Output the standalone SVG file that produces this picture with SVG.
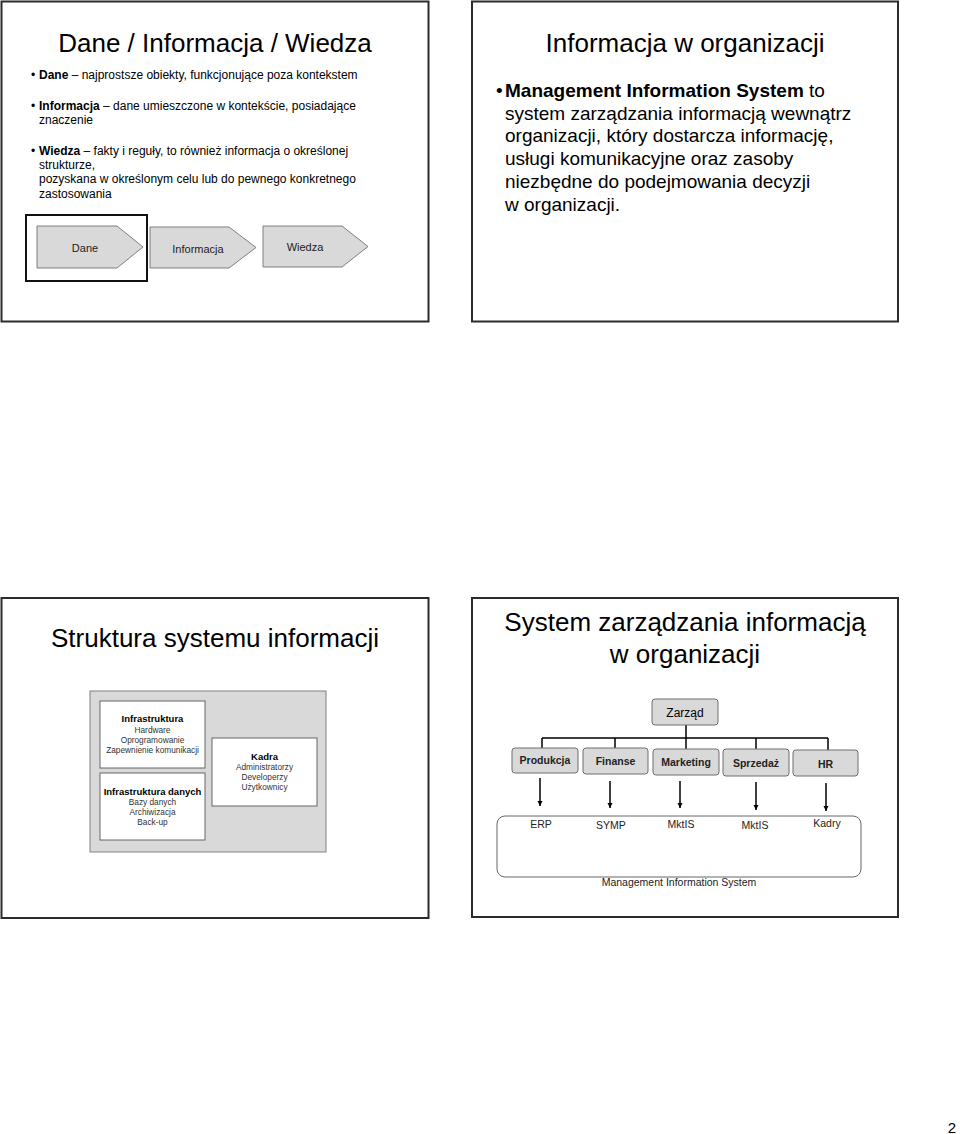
<svg xmlns="http://www.w3.org/2000/svg" width="960" height="1134" viewBox="0 0 960 1134">
<style>
text{font-family:"Liberation Sans",Arial,sans-serif;fill:#000}
.frame{fill:#fff;stroke:#2b2b2b;stroke-width:2}
.title{font-size:26px;text-anchor:middle}
.b12{font-size:12px}
.b19{font-size:19px}
.chev{fill:#d9d9d9;stroke:#7f7f7f;stroke-width:1}
.cl{font-size:11px;text-anchor:middle;fill:#222}
.gbox{fill:#d9d9d9;stroke:#808080;stroke-width:1}
.wbox{fill:#fff;stroke:#666;stroke-width:1}
.sb{font-size:9.5px;font-weight:bold;text-anchor:middle}
.sn{font-size:8.3px;text-anchor:middle;fill:#333}
.ob{fill:#d9d9d9;stroke:#6f6f6f;stroke-width:1}
.ol{font-size:10.5px;font-weight:bold;text-anchor:middle;fill:#222}
.line{stroke:#000;stroke-width:1.5;fill:none}
.mis{fill:none;stroke:#666;stroke-width:1}
.ml{font-size:10.5px;text-anchor:middle;fill:#222}
</style>
<defs>
<marker id="ah" markerWidth="6" markerHeight="6" refX="5" refY="3" orient="auto" markerUnits="userSpaceOnUse">
<path d="M0,0.5 L5,3 L0,5.5 Z" fill="#000"/>
</marker>
</defs>
<rect width="960" height="1134" fill="#fff"/>

<!-- Slide 1 -->
<g id="slide1">
<rect class="frame" x="1.5" y="1.5" width="427" height="320"/>
<text class="title" x="215" y="52">Dane / Informacja / Wiedza</text>
<text class="b12" x="31" y="79">•</text>
<text class="b12" x="39" y="79"><tspan font-weight="bold">Dane</tspan> – najprostsze obiekty, funkcjonujące poza kontekstem</text>
<text class="b12" x="31" y="110">•</text>
<text class="b12" x="39" y="110"><tspan font-weight="bold">Informacja</tspan> – dane umieszczone w kontekście, posiadające</text>
<text class="b12" x="39" y="124">znaczenie</text>
<text class="b12" x="31" y="155">•</text>
<text class="b12" x="39" y="155"><tspan font-weight="bold">Wiedza</tspan> – fakty i reguły, to również informacja o określonej</text>
<text class="b12" x="39" y="169">strukturze,</text>
<text class="b12" x="39" y="183">pozyskana w określonym celu lub do pewnego konkretnego</text>
<text class="b12" x="39" y="198">zastosowania</text>
</g>
<g id="node-dane">
<polygon class="chev" points="37,226 117,226 143,247 117,268 37,268"/>
<text class="cl" x="85" y="252">Dane</text>
<rect x="26" y="215" width="121" height="66" fill="none" stroke="#111" stroke-width="2"/>
</g>
<g id="node-informacja">
<polygon class="chev" points="150,227 229,227 256,247.5 229,268 150,268"/>
<text class="cl" x="198" y="253">Informacja</text>
</g>
<g id="node-wiedza">
<polygon class="chev" points="263,226 342,226 368,246.5 342,267 263,267"/>
<text class="cl" x="305" y="251">Wiedza</text>
</g>

<!-- Slide 2 -->
<g id="slide2">
<rect class="frame" x="472" y="1.5" width="426" height="320"/>
<text class="title" x="685" y="52">Informacja w organizacji</text>
<text class="b19" x="496" y="97">•</text>
<text class="b19" x="505" y="97"><tspan font-weight="bold">Management Information System</tspan> to</text>
<text class="b19" x="505" y="120">system zarządzania informacją wewnątrz</text>
<text class="b19" x="505" y="142">organizacji, który dostarcza informację,</text>
<text class="b19" x="505" y="165">usługi komunikacyjne oraz zasoby</text>
<text class="b19" x="505" y="188">niezbędne do podejmowania decyzji</text>
<text class="b19" x="505" y="211">w organizacji.</text>
</g>

<!-- Slide 3 -->
<g id="slide3">
<rect class="frame" x="1.5" y="598" width="427" height="320"/>
<text class="title" x="215" y="647">Struktura systemu informacji</text>
<rect class="gbox" x="90" y="691" width="236" height="161"/>
</g>
<g id="node-infrastruktura">
<rect class="wbox" x="100" y="701" width="105" height="67"/>
<text class="sb" x="152.5" y="722">Infrastruktura</text>
<text class="sn" x="152.5" y="733">Hardware</text>
<text class="sn" x="152.5" y="743">Oprogramowanie</text>
<text class="sn" x="152.5" y="753">Zapewnienie komunikacji</text>
</g>
<g id="node-infrastruktura-danych">
<rect class="wbox" x="100" y="773" width="105" height="67"/>
<text class="sb" x="152.5" y="795">Infrastruktura danych</text>
<text class="sn" x="152.5" y="805">Bazy danych</text>
<text class="sn" x="152.5" y="815">Archiwizacja</text>
<text class="sn" x="152.5" y="825">Back-up</text>
</g>
<g id="node-kadra">
<rect class="wbox" x="212" y="738" width="105" height="68"/>
<text class="sb" x="264.5" y="760">Kadra</text>
<text class="sn" x="264.5" y="770">Administratorzy</text>
<text class="sn" x="264.5" y="780">Developerzy</text>
<text class="sn" x="264.5" y="790">Użytkownicy</text>
</g>

<!-- Slide 4 -->
<g id="slide4">
<rect class="frame" x="472" y="598" width="426" height="319"/>
<text class="title" x="685" y="631">System zarządzania informacją</text>
<text class="title" x="685" y="663">w organizacji</text>
</g>
<g id="connectors">
<path class="line" d="M686,725 V738 M542,738 H828 M542,738 V748 M615,738 V748 M686,738 V749 M756,738 V749 M828,738 V750"/>
<line class="line" x1="540" y1="778" x2="540" y2="806" marker-end="url(#ah)"/>
<line class="line" x1="610" y1="781" x2="610" y2="808" marker-end="url(#ah)"/>
<line class="line" x1="680" y1="781" x2="680" y2="808" marker-end="url(#ah)"/>
<line class="line" x1="756" y1="782" x2="756" y2="810" marker-end="url(#ah)"/>
<line class="line" x1="826" y1="783" x2="826" y2="811" marker-end="url(#ah)"/>
</g>
<g id="node-zarzad">
<rect class="ob" x="652" y="699" width="66" height="26" rx="3"/>
<text x="685" y="717" font-size="12px" text-anchor="middle" fill="#222">Zarząd</text>
</g>
<g id="node-produkcja">
<rect class="ob" x="512" y="748" width="66" height="25" rx="3"/>
<text class="ol" x="545" y="764">Produkcja</text>
</g>
<g id="node-finanse">
<rect class="ob" x="583" y="748" width="65" height="26" rx="3"/>
<text class="ol" x="615.5" y="765">Finanse</text>
</g>
<g id="node-marketing">
<rect class="ob" x="653" y="749" width="66" height="26" rx="3"/>
<text class="ol" x="686" y="766">Marketing</text>
</g>
<g id="node-sprzedaz">
<rect class="ob" x="723" y="749" width="66" height="27" rx="3"/>
<text class="ol" x="756" y="767">Sprzedaż</text>
</g>
<g id="node-hr">
<rect class="ob" x="793" y="750" width="65" height="26" rx="3"/>
<text class="ol" x="825.5" y="768">HR</text>
</g>
<g id="node-mis">
<rect class="mis" x="497" y="816" width="364" height="61" rx="8"/>
<text class="ml" x="541" y="828">ERP</text>
<text class="ml" x="611" y="829">SYMP</text>
<text class="ml" x="681" y="828">MktIS</text>
<text class="ml" x="755" y="829">MktIS</text>
<text class="ml" x="827" y="827">Kadry</text>
<text class="ml" x="679" y="886">Management Information System</text>
</g>

<text x="952" y="1133" font-size="15px" text-anchor="middle">2</text>
</svg>
